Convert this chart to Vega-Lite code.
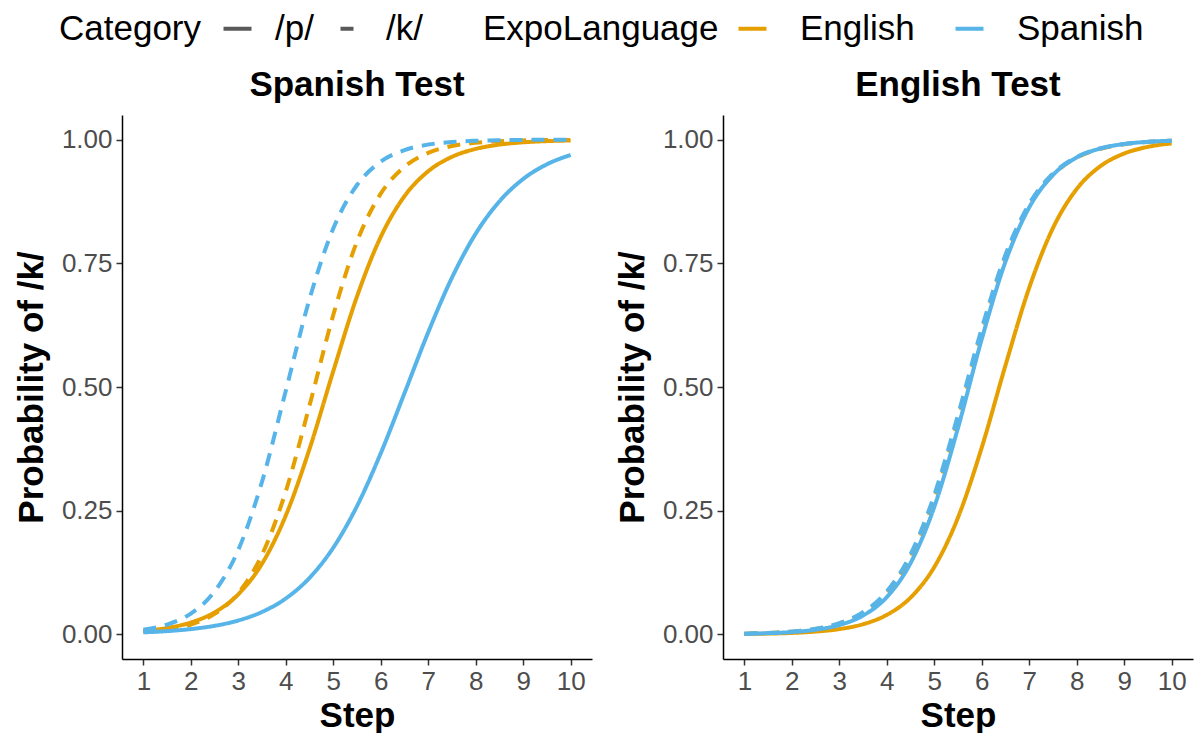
{
  "$schema": "https://vega.github.io/schema/vega-lite/v6.json",
  "padding": {"left": 14, "top": 11, "right": 5, "bottom": 0},
  "config": {
    "font": "Liberation Sans",
    "view": {"stroke": null},
    "axis": {"domainColor": "black", "domainWidth": 1.5, "tickColor": "#333333", "tickWidth": 1.5, "tickSize": 6, "labelColor": "#4D4D4D", "labelFontSize": 26, "labelFont": "Liberation Sans", "titleFont": "Liberation Sans", "titleFontSize": 35, "titleFontWeight": "bold", "titleColor": "black", "grid": false},
    "axisX": {"labelPadding": 3, "titlePadding": 4},
    "axisY": {"labelPadding": 4, "titlePadding": 12},
    "title": {"fontSize": 35, "fontWeight": "bold", "color": "black", "anchor": "middle", "offset": 12, "font": "Liberation Sans"},
    "legend": {"labelFontSize": 35, "titleFontSize": 35, "titleFontWeight": "normal", "labelColor": "black", "titleColor": "black", "labelFont": "Liberation Sans", "titleFont": "Liberation Sans", "titleLimit": 600, "labelLimit": 300},
    "concat": {"spacing": 23}
  },
  "data": {"values": [
    {"Test":"Spanish Test","ExpoLanguage":"English","Category":"/p/","Step":1,"Prob":0.0068},
    {"Test":"Spanish Test","ExpoLanguage":"English","Category":"/p/","Step":1.5,"Prob":0.0127},
    {"Test":"Spanish Test","ExpoLanguage":"English","Category":"/p/","Step":2,"Prob":0.0239},
    {"Test":"Spanish Test","ExpoLanguage":"English","Category":"/p/","Step":2.5,"Prob":0.0443},
    {"Test":"Spanish Test","ExpoLanguage":"English","Category":"/p/","Step":3,"Prob":0.0808},
    {"Test":"Spanish Test","ExpoLanguage":"English","Category":"/p/","Step":3.5,"Prob":0.1428},
    {"Test":"Spanish Test","ExpoLanguage":"English","Category":"/p/","Step":4,"Prob":0.2401},
    {"Test":"Spanish Test","ExpoLanguage":"English","Category":"/p/","Step":4.5,"Prob":0.3747},
    {"Test":"Spanish Test","ExpoLanguage":"English","Category":"/p/","Step":5,"Prob":0.5320},
    {"Test":"Spanish Test","ExpoLanguage":"English","Category":"/p/","Step":5.5,"Prob":0.6831},
    {"Test":"Spanish Test","ExpoLanguage":"English","Category":"/p/","Step":6,"Prob":0.8035},
    {"Test":"Spanish Test","ExpoLanguage":"English","Category":"/p/","Step":6.5,"Prob":0.8858},
    {"Test":"Spanish Test","ExpoLanguage":"English","Category":"/p/","Step":7,"Prob":0.9363},
    {"Test":"Spanish Test","ExpoLanguage":"English","Category":"/p/","Step":7.5,"Prob":0.9654},
    {"Test":"Spanish Test","ExpoLanguage":"English","Category":"/p/","Step":8,"Prob":0.9814},
    {"Test":"Spanish Test","ExpoLanguage":"English","Category":"/p/","Step":8.5,"Prob":0.9901},
    {"Test":"Spanish Test","ExpoLanguage":"English","Category":"/p/","Step":9,"Prob":0.9948},
    {"Test":"Spanish Test","ExpoLanguage":"English","Category":"/p/","Step":9.5,"Prob":0.9972},
    {"Test":"Spanish Test","ExpoLanguage":"English","Category":"/p/","Step":10,"Prob":0.9985},
    {"Test":"Spanish Test","ExpoLanguage":"English","Category":"/k/","Step":1,"Prob":0.0045},
    {"Test":"Spanish Test","ExpoLanguage":"English","Category":"/k/","Step":1.5,"Prob":0.0095},
    {"Test":"Spanish Test","ExpoLanguage":"English","Category":"/k/","Step":2,"Prob":0.0198},
    {"Test":"Spanish Test","ExpoLanguage":"English","Category":"/k/","Step":2.5,"Prob":0.0411},
    {"Test":"Spanish Test","ExpoLanguage":"English","Category":"/k/","Step":3,"Prob":0.0832},
    {"Test":"Spanish Test","ExpoLanguage":"English","Category":"/k/","Step":3.5,"Prob":0.1611},
    {"Test":"Spanish Test","ExpoLanguage":"English","Category":"/k/","Step":4,"Prob":0.2890},
    {"Test":"Spanish Test","ExpoLanguage":"English","Category":"/k/","Step":4.5,"Prob":0.4626},
    {"Test":"Spanish Test","ExpoLanguage":"English","Category":"/k/","Step":5,"Prob":0.6457},
    {"Test":"Spanish Test","ExpoLanguage":"English","Category":"/k/","Step":5.5,"Prob":0.7941},
    {"Test":"Spanish Test","ExpoLanguage":"English","Category":"/k/","Step":6,"Prob":0.8909},
    {"Test":"Spanish Test","ExpoLanguage":"English","Category":"/k/","Step":6.5,"Prob":0.9453},
    {"Test":"Spanish Test","ExpoLanguage":"English","Category":"/k/","Step":7,"Prob":0.9734},
    {"Test":"Spanish Test","ExpoLanguage":"English","Category":"/k/","Step":7.5,"Prob":0.9873},
    {"Test":"Spanish Test","ExpoLanguage":"English","Category":"/k/","Step":8,"Prob":0.9939},
    {"Test":"Spanish Test","ExpoLanguage":"English","Category":"/k/","Step":8.5,"Prob":0.9971},
    {"Test":"Spanish Test","ExpoLanguage":"English","Category":"/k/","Step":9,"Prob":0.9986},
    {"Test":"Spanish Test","ExpoLanguage":"English","Category":"/k/","Step":9.5,"Prob":0.9994},
    {"Test":"Spanish Test","ExpoLanguage":"English","Category":"/k/","Step":10,"Prob":0.9997},
    {"Test":"Spanish Test","ExpoLanguage":"Spanish","Category":"/p/","Step":1,"Prob":0.0039},
    {"Test":"Spanish Test","ExpoLanguage":"Spanish","Category":"/p/","Step":1.5,"Prob":0.0064},
    {"Test":"Spanish Test","ExpoLanguage":"Spanish","Category":"/p/","Step":2,"Prob":0.0105},
    {"Test":"Spanish Test","ExpoLanguage":"Spanish","Category":"/p/","Step":2.5,"Prob":0.0171},
    {"Test":"Spanish Test","ExpoLanguage":"Spanish","Category":"/p/","Step":3,"Prob":0.0279},
    {"Test":"Spanish Test","ExpoLanguage":"Spanish","Category":"/p/","Step":3.5,"Prob":0.0452},
    {"Test":"Spanish Test","ExpoLanguage":"Spanish","Category":"/p/","Step":4,"Prob":0.0724},
    {"Test":"Spanish Test","ExpoLanguage":"Spanish","Category":"/p/","Step":4.5,"Prob":0.1141},
    {"Test":"Spanish Test","ExpoLanguage":"Spanish","Category":"/p/","Step":5,"Prob":0.1751},
    {"Test":"Spanish Test","ExpoLanguage":"Spanish","Category":"/p/","Step":5.5,"Prob":0.2592},
    {"Test":"Spanish Test","ExpoLanguage":"Spanish","Category":"/p/","Step":6,"Prob":0.3659},
    {"Test":"Spanish Test","ExpoLanguage":"Spanish","Category":"/p/","Step":6.5,"Prob":0.4875},
    {"Test":"Spanish Test","ExpoLanguage":"Spanish","Category":"/p/","Step":7,"Prob":0.6106},
    {"Test":"Spanish Test","ExpoLanguage":"Spanish","Category":"/p/","Step":7.5,"Prob":0.7211},
    {"Test":"Spanish Test","ExpoLanguage":"Spanish","Category":"/p/","Step":8,"Prob":0.8100},
    {"Test":"Spanish Test","ExpoLanguage":"Spanish","Category":"/p/","Step":8.5,"Prob":0.8754},
    {"Test":"Spanish Test","ExpoLanguage":"Spanish","Category":"/p/","Step":9,"Prob":0.9206},
    {"Test":"Spanish Test","ExpoLanguage":"Spanish","Category":"/p/","Step":9.5,"Prob":0.9503},
    {"Test":"Spanish Test","ExpoLanguage":"Spanish","Category":"/p/","Step":10,"Prob":0.9692},
    {"Test":"Spanish Test","ExpoLanguage":"Spanish","Category":"/k/","Step":1,"Prob":0.0092},
    {"Test":"Spanish Test","ExpoLanguage":"Spanish","Category":"/k/","Step":1.5,"Prob":0.0197},
    {"Test":"Spanish Test","ExpoLanguage":"Spanish","Category":"/k/","Step":2,"Prob":0.0418},
    {"Test":"Spanish Test","ExpoLanguage":"Spanish","Category":"/k/","Step":2.5,"Prob":0.0866},
    {"Test":"Spanish Test","ExpoLanguage":"Spanish","Category":"/k/","Step":3,"Prob":0.1706},
    {"Test":"Spanish Test","ExpoLanguage":"Spanish","Category":"/k/","Step":3.5,"Prob":0.3087},
    {"Test":"Spanish Test","ExpoLanguage":"Spanish","Category":"/k/","Step":4,"Prob":0.4923},
    {"Test":"Spanish Test","ExpoLanguage":"Spanish","Category":"/k/","Step":4.5,"Prob":0.6779},
    {"Test":"Spanish Test","ExpoLanguage":"Spanish","Category":"/k/","Step":5,"Prob":0.8204},
    {"Test":"Spanish Test","ExpoLanguage":"Spanish","Category":"/k/","Step":5.5,"Prob":0.9084},
    {"Test":"Spanish Test","ExpoLanguage":"Spanish","Category":"/k/","Step":6,"Prob":0.9556},
    {"Test":"Spanish Test","ExpoLanguage":"Spanish","Category":"/k/","Step":6.5,"Prob":0.9790},
    {"Test":"Spanish Test","ExpoLanguage":"Spanish","Category":"/k/","Step":7,"Prob":0.9902},
    {"Test":"Spanish Test","ExpoLanguage":"Spanish","Category":"/k/","Step":7.5,"Prob":0.9955},
    {"Test":"Spanish Test","ExpoLanguage":"Spanish","Category":"/k/","Step":8,"Prob":0.9979},
    {"Test":"Spanish Test","ExpoLanguage":"Spanish","Category":"/k/","Step":8.5,"Prob":0.9990},
    {"Test":"Spanish Test","ExpoLanguage":"Spanish","Category":"/k/","Step":9,"Prob":0.9996},
    {"Test":"Spanish Test","ExpoLanguage":"Spanish","Category":"/k/","Step":9.5,"Prob":0.9998},
    {"Test":"Spanish Test","ExpoLanguage":"Spanish","Category":"/k/","Step":10,"Prob":0.9999},
    {"Test":"English Test","ExpoLanguage":"English","Category":"/p/","Step":1,"Prob":0.0007},
    {"Test":"English Test","ExpoLanguage":"English","Category":"/p/","Step":1.5,"Prob":0.0014},
    {"Test":"English Test","ExpoLanguage":"English","Category":"/p/","Step":2,"Prob":0.0027},
    {"Test":"English Test","ExpoLanguage":"English","Category":"/p/","Step":2.5,"Prob":0.0054},
    {"Test":"English Test","ExpoLanguage":"English","Category":"/p/","Step":3,"Prob":0.0105},
    {"Test":"English Test","ExpoLanguage":"English","Category":"/p/","Step":3.5,"Prob":0.0203},
    {"Test":"English Test","ExpoLanguage":"English","Category":"/p/","Step":4,"Prob":0.0392},
    {"Test":"English Test","ExpoLanguage":"English","Category":"/p/","Step":4.5,"Prob":0.0741},
    {"Test":"English Test","ExpoLanguage":"English","Category":"/p/","Step":5,"Prob":0.1359},
    {"Test":"English Test","ExpoLanguage":"English","Category":"/p/","Step":5.5,"Prob":0.2360},
    {"Test":"English Test","ExpoLanguage":"English","Category":"/p/","Step":6,"Prob":0.3775},
    {"Test":"English Test","ExpoLanguage":"English","Category":"/p/","Step":6.5,"Prob":0.5438},
    {"Test":"English Test","ExpoLanguage":"English","Category":"/p/","Step":7,"Prob":0.7007},
    {"Test":"English Test","ExpoLanguage":"English","Category":"/p/","Step":7.5,"Prob":0.8214},
    {"Test":"English Test","ExpoLanguage":"English","Category":"/p/","Step":8,"Prob":0.9003},
    {"Test":"English Test","ExpoLanguage":"English","Category":"/p/","Step":8.5,"Prob":0.9466},
    {"Test":"English Test","ExpoLanguage":"English","Category":"/p/","Step":9,"Prob":0.9721},
    {"Test":"English Test","ExpoLanguage":"English","Category":"/p/","Step":9.5,"Prob":0.9856},
    {"Test":"English Test","ExpoLanguage":"English","Category":"/p/","Step":10,"Prob":0.9926},
    {"Test":"English Test","ExpoLanguage":"English","Category":"/k/","Step":1,"Prob":0.0013},
    {"Test":"English Test","ExpoLanguage":"English","Category":"/k/","Step":1.5,"Prob":0.0026},
    {"Test":"English Test","ExpoLanguage":"English","Category":"/k/","Step":2,"Prob":0.0053},
    {"Test":"English Test","ExpoLanguage":"English","Category":"/k/","Step":2.5,"Prob":0.0107},
    {"Test":"English Test","ExpoLanguage":"English","Category":"/k/","Step":3,"Prob":0.0215},
    {"Test":"English Test","ExpoLanguage":"English","Category":"/k/","Step":3.5,"Prob":0.0427},
    {"Test":"English Test","ExpoLanguage":"English","Category":"/k/","Step":4,"Prob":0.0832},
    {"Test":"English Test","ExpoLanguage":"English","Category":"/k/","Step":4.5,"Prob":0.1558},
    {"Test":"English Test","ExpoLanguage":"English","Category":"/k/","Step":5,"Prob":0.2729},
    {"Test":"English Test","ExpoLanguage":"English","Category":"/k/","Step":5.5,"Prob":0.4329},
    {"Test":"English Test","ExpoLanguage":"English","Category":"/k/","Step":6,"Prob":0.6083},
    {"Test":"English Test","ExpoLanguage":"English","Category":"/k/","Step":6.5,"Prob":0.7595},
    {"Test":"English Test","ExpoLanguage":"English","Category":"/k/","Step":7,"Prob":0.8653},
    {"Test":"English Test","ExpoLanguage":"English","Category":"/k/","Step":7.5,"Prob":0.9289},
    {"Test":"English Test","ExpoLanguage":"English","Category":"/k/","Step":8,"Prob":0.9638},
    {"Test":"English Test","ExpoLanguage":"English","Category":"/k/","Step":8.5,"Prob":0.9818},
    {"Test":"English Test","ExpoLanguage":"English","Category":"/k/","Step":9,"Prob":0.9910},
    {"Test":"English Test","ExpoLanguage":"English","Category":"/k/","Step":9.5,"Prob":0.9955},
    {"Test":"English Test","ExpoLanguage":"English","Category":"/k/","Step":10,"Prob":0.9978},
    {"Test":"English Test","ExpoLanguage":"Spanish","Category":"/p/","Step":1,"Prob":0.0011},
    {"Test":"English Test","ExpoLanguage":"Spanish","Category":"/p/","Step":1.5,"Prob":0.0022},
    {"Test":"English Test","ExpoLanguage":"Spanish","Category":"/p/","Step":2,"Prob":0.0045},
    {"Test":"English Test","ExpoLanguage":"Spanish","Category":"/p/","Step":2.5,"Prob":0.0092},
    {"Test":"English Test","ExpoLanguage":"Spanish","Category":"/p/","Step":3,"Prob":0.0187},
    {"Test":"English Test","ExpoLanguage":"Spanish","Category":"/p/","Step":3.5,"Prob":0.0379},
    {"Test":"English Test","ExpoLanguage":"Spanish","Category":"/p/","Step":4,"Prob":0.0752},
    {"Test":"English Test","ExpoLanguage":"Spanish","Category":"/p/","Step":4.5,"Prob":0.1438},
    {"Test":"English Test","ExpoLanguage":"Spanish","Category":"/p/","Step":5,"Prob":0.2575},
    {"Test":"English Test","ExpoLanguage":"Spanish","Category":"/p/","Step":5.5,"Prob":0.4173},
    {"Test":"English Test","ExpoLanguage":"Spanish","Category":"/p/","Step":6,"Prob":0.5968},
    {"Test":"English Test","ExpoLanguage":"Spanish","Category":"/p/","Step":6.5,"Prob":0.7534},
    {"Test":"English Test","ExpoLanguage":"Spanish","Category":"/p/","Step":7,"Prob":0.8632},
    {"Test":"English Test","ExpoLanguage":"Spanish","Category":"/p/","Step":7.5,"Prob":0.9287},
    {"Test":"English Test","ExpoLanguage":"Spanish","Category":"/p/","Step":8,"Prob":0.9642},
    {"Test":"English Test","ExpoLanguage":"Spanish","Category":"/p/","Step":8.5,"Prob":0.9823},
    {"Test":"English Test","ExpoLanguage":"Spanish","Category":"/p/","Step":9,"Prob":0.9914},
    {"Test":"English Test","ExpoLanguage":"Spanish","Category":"/p/","Step":9.5,"Prob":0.9958},
    {"Test":"English Test","ExpoLanguage":"Spanish","Category":"/p/","Step":10,"Prob":0.9980},
    {"Test":"English Test","ExpoLanguage":"Spanish","Category":"/k/","Step":1,"Prob":0.0013},
    {"Test":"English Test","ExpoLanguage":"Spanish","Category":"/k/","Step":1.5,"Prob":0.0027},
    {"Test":"English Test","ExpoLanguage":"Spanish","Category":"/k/","Step":2,"Prob":0.0055},
    {"Test":"English Test","ExpoLanguage":"Spanish","Category":"/k/","Step":2.5,"Prob":0.0111},
    {"Test":"English Test","ExpoLanguage":"Spanish","Category":"/k/","Step":3,"Prob":0.0224},
    {"Test":"English Test","ExpoLanguage":"Spanish","Category":"/k/","Step":3.5,"Prob":0.0445},
    {"Test":"English Test","ExpoLanguage":"Spanish","Category":"/k/","Step":4,"Prob":0.0865},
    {"Test":"English Test","ExpoLanguage":"Spanish","Category":"/k/","Step":4.5,"Prob":0.1615},
    {"Test":"English Test","ExpoLanguage":"Spanish","Category":"/k/","Step":5,"Prob":0.2815},
    {"Test":"English Test","ExpoLanguage":"Spanish","Category":"/k/","Step":5.5,"Prob":0.4435},
    {"Test":"English Test","ExpoLanguage":"Spanish","Category":"/k/","Step":6,"Prob":0.6185},
    {"Test":"English Test","ExpoLanguage":"Spanish","Category":"/k/","Step":6.5,"Prob":0.7673},
    {"Test":"English Test","ExpoLanguage":"Spanish","Category":"/k/","Step":7,"Prob":0.8703},
    {"Test":"English Test","ExpoLanguage":"Spanish","Category":"/k/","Step":7.5,"Prob":0.9317},
    {"Test":"English Test","ExpoLanguage":"Spanish","Category":"/k/","Step":8,"Prob":0.9652},
    {"Test":"English Test","ExpoLanguage":"Spanish","Category":"/k/","Step":8.5,"Prob":0.9826},
    {"Test":"English Test","ExpoLanguage":"Spanish","Category":"/k/","Step":9,"Prob":0.9914},
    {"Test":"English Test","ExpoLanguage":"Spanish","Category":"/k/","Step":9.5,"Prob":0.9957},
    {"Test":"English Test","ExpoLanguage":"Spanish","Category":"/k/","Step":10,"Prob":0.9979}
  ]},
  "hconcat": [
    {
      "title": "Spanish Test",
      "width": 470,
      "height": 544,
      "transform": [{"filter": "datum.Test === 'Spanish Test'"}],
      "mark": {"type": "line", "strokeWidth": 4, "interpolate": "monotone"},
      "encoding": {
        "x": {"field": "Step", "type": "quantitative", "scale": {"domain": [0.55, 10.45], "nice": false, "zero": false}, "axis": {"values": [1,2,3,4,5,6,7,8,9,10], "format": "d", "title": "Step"}},
        "y": {"field": "Prob", "type": "quantitative", "scale": {"domain": [-0.05, 1.05], "nice": false, "zero": false}, "axis": {"values": [0, 0.25, 0.5, 0.75, 1], "format": ".2f", "title": "Probability of /k/"}},
        "color": {"field": "ExpoLanguage", "type": "nominal", "scale": {"domain": ["English", "Spanish"], "range": ["#E69F00", "#56B4E9"]}, "legend": {"orient": "none", "legendX": 361, "legendY": -104, "direction": "horizontal", "titleOrient": "left", "symbolType": "stroke", "symbolSize": 784, "symbolStrokeWidth": 4, "columnPadding": 32, "titlePadding": 16, "labelOffset": 30}},
        "strokeDash": {"field": "Category", "type": "nominal", "scale": {"domain": ["/p/", "/k/"], "range": [[1, 0], [13, 9]]}, "legend": {"orient": "none", "legendX": -63, "legendY": -104, "direction": "horizontal", "titleOrient": "left", "symbolType": "stroke", "symbolSize": 784, "symbolStrokeWidth": 4, "symbolStrokeColor": "#595959", "symbolDashOffset": 16, "columnPadding": 12, "titlePadding": 18, "labelOffset": 20}}
      }
    },
    {
      "title": "English Test",
      "width": 470,
      "height": 544,
      "transform": [{"filter": "datum.Test === 'English Test'"}],
      "mark": {"type": "line", "strokeWidth": 4, "interpolate": "monotone"},
      "encoding": {
        "x": {"field": "Step", "type": "quantitative", "scale": {"domain": [0.55, 10.45], "nice": false, "zero": false}, "axis": {"values": [1,2,3,4,5,6,7,8,9,10], "format": "d", "title": "Step"}},
        "y": {"field": "Prob", "type": "quantitative", "scale": {"domain": [-0.05, 1.05], "nice": false, "zero": false}, "axis": {"values": [0, 0.25, 0.5, 0.75, 1], "format": ".2f", "title": "Probability of /k/"}},
        "color": {"field": "ExpoLanguage", "type": "nominal", "scale": {"domain": ["English", "Spanish"], "range": ["#E69F00", "#56B4E9"]}},
        "strokeDash": {"field": "Category", "type": "nominal", "scale": {"domain": ["/p/", "/k/"], "range": [[1, 0], [13, 9]]}}
      }
    }
  ]
}
